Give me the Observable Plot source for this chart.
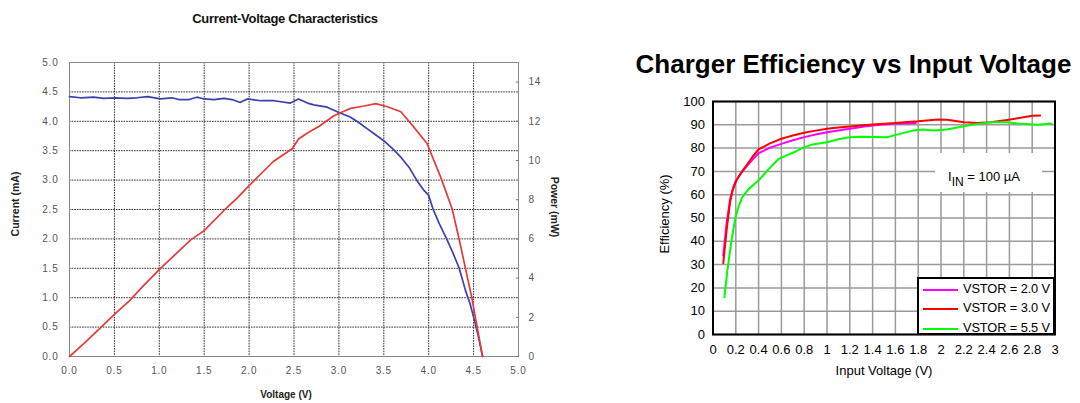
<!DOCTYPE html>
<html>
<head>
<meta charset="utf-8">
<script src="https://cdn.jsdelivr.net/npm/d3@7"></script>
<script src="https://cdn.jsdelivr.net/npm/@observablehq/plot@0.6"></script>
<style>
  html, body { margin: 0; padding: 0; background: #fff; }
  body { position: relative; width: 1080px; height: 403px; overflow: hidden; font-family: "Liberation Sans", Arial, sans-serif; }
  .abs { position: absolute; white-space: nowrap; }
  .rot { transform: translate(-50%, -50%) rotate(-90deg); }
  .rot90 { transform: translate(-50%, -50%) rotate(90deg); }
  #c1 { left: 0; top: 40px; width: 580px; height: 363px; }
  #c2 { left: 620px; top: 85px; width: 460px; height: 318px; }
  #c1 svg text { letter-spacing: 0.8px; }
  #legend { left: 917px; top: 277px; width: 138px; height: 58px; box-sizing: border-box; border: 2px solid #000; background: #fff; font-size: 12.8px; letter-spacing: -0.1px; color: #000; }
  .lg { position: absolute; left: 4px; height: 16px; line-height: 16px; }
  .sw { display: inline-block; width: 35px; height: 0; border-top: 2px solid; vertical-align: middle; margin-right: 5px; }
  #note { left: 935px; top: 153px; width: 107px; height: 39px; background: #fff; font-size: 13px; color: #000; }
</style>
</head>
<body>
<div class="abs" id="t1" style="left:135px;top:11.5px;width:300px;text-align:center;font-size:13px;line-height:13px;font-weight:bold;letter-spacing:-0.3px;color:#111;">Current-Voltage Characteristics</div>
<div class="abs" id="c1"></div>
<div class="abs rot" style="left:15px;top:204px;font-size:10.5px;font-weight:bold;color:#222;">Current (mA)</div>
<div class="abs rot90" style="left:555px;top:207px;font-size:10.5px;font-weight:bold;color:#222;">Power (mW)</div>
<div class="abs" style="left:186px;top:390px;width:200px;text-align:center;font-size:10px;line-height:10px;font-weight:bold;color:#222;">Voltage (V)</div>

<div class="abs" id="t2" style="left:620px;top:51px;width:467px;text-align:center;font-size:26px;line-height:26px;font-weight:bold;color:#000;">Charger Efficiency vs Input Voltage</div>
<div class="abs" id="c2"></div>
<div class="abs rot" style="left:664px;top:214px;font-size:13px;color:#000;">Efficiency (%)</div>
<div class="abs" style="left:784px;top:363px;width:200px;text-align:center;font-size:13px;line-height:15px;color:#000;">Input Voltage (V)</div>
<div class="abs" id="note"><div style="position:absolute;left:13px;top:17px;line-height:13px;">I<span style="font-size:12px;position:relative;top:5px;">IN</span> = 100 µA</div></div>
<div class="abs" id="legend"></div>

<script>
// ---------- Left chart: Current-Voltage Characteristics ----------
const ivVoltage = [0.00, 0.12, 0.27, 0.38, 0.51, 0.64, 0.75, 0.87, 0.98, 1.01, 1.14, 1.22, 1.33, 1.42, 1.50, 1.61, 1.72, 1.81, 1.90, 1.98, 2.13, 2.28, 2.46, 2.55, 2.65, 2.72, 2.87, 3.00, 3.13, 3.22, 3.31, 3.40, 3.50, 3.60, 3.69, 3.78, 3.87, 3.95, 4.00, 4.05, 4.12, 4.20, 4.27, 4.34, 4.41, 4.46, 4.50, 4.55, 4.60];
const ivCurrent = [4.42, 4.40, 4.41, 4.39, 4.40, 4.39, 4.40, 4.42, 4.39, 4.38, 4.40, 4.37, 4.37, 4.41, 4.38, 4.37, 4.39, 4.37, 4.32, 4.38, 4.35, 4.35, 4.31, 4.38, 4.31, 4.28, 4.24, 4.15, 4.07, 3.98, 3.88, 3.78, 3.67, 3.53, 3.39, 3.22, 2.99, 2.82, 2.74, 2.50, 2.25, 2.00, 1.76, 1.50, 1.12, 0.90, 0.67, 0.36, 0.00];

const pwVoltage = [0.00, 0.15, 0.35, 0.50, 0.67, 0.80, 1.01, 1.20, 1.35, 1.50, 1.72, 1.87, 2.00, 2.15, 2.27, 2.48, 2.55, 2.65, 2.78, 2.94, 3.05, 3.13, 3.28, 3.41, 3.54, 3.69, 3.83, 3.98, 4.13, 4.26, 4.34, 4.41, 4.48, 4.54, 4.60];
const pwPower   = [0.00, 0.62, 1.49, 2.15, 2.85, 3.50, 4.48, 5.30, 5.95, 6.42, 7.45, 8.09, 8.72, 9.40, 9.95, 10.60, 11.10, 11.40, 11.75, 12.27, 12.50, 12.66, 12.78, 12.90, 12.74, 12.49, 11.73, 10.88, 9.19, 7.55, 5.97, 4.48, 3.00, 1.49, 0.00];

const leftXTicks = [0, 0.5, 1, 1.5, 2, 2.5, 3, 3.5, 4, 4.5, 5];
const leftYTicks = [0, 0.5, 1, 1.5, 2, 2.5, 3, 3.5, 4, 4.5, 5];
const powerTicks = [0, 2, 4, 6, 8, 10, 12, 14];
const powerMax = 15;   // right axis spans 0–15 mW while left spans 0–5 mA
const currentMax = 5;

const ivData = ivVoltage.map((v, i) => ({v, i: ivCurrent[i]}));
const pwData = pwVoltage.map((v, i) => ({v, p: pwPower[i]}));
const pToI = p => p * currentMax / powerMax;
const fmt1 = d3.format(".1f");

const left = Plot.plot({
  width: 580, height: 363,
  marginLeft: 69, marginRight: 62, marginTop: 22, marginBottom: 47,
  x: {domain: [0, 5]},
  y: {domain: [0, currentMax]},
  style: {fontFamily: "'Liberation Sans', Arial, sans-serif", fontSize: "10px", color: "#555", background: "transparent", overflow: "visible"},
  marks: [
    Plot.gridX(leftXTicks, {stroke: "#1a1a1a", strokeOpacity: 1, strokeWidth: 0.9, strokeDasharray: "1.6,1"}),
    Plot.gridY(leftYTicks, {stroke: "#1a1a1a", strokeOpacity: 1, strokeWidth: 0.9, strokeDasharray: "1.6,1"}),
    Plot.frame({stroke: "#888"}),
    Plot.line(ivData, {x: "v", y: "i", stroke: "#3d3fae", strokeWidth: 1.7}),
    Plot.line(pwData, {x: "v", y: d => pToI(d.p), stroke: "#e23b3b", strokeWidth: 1.7}),
    Plot.axisX(leftXTicks, {tickSize: 0, tickPadding: 10, tickFormat: fmt1, label: null}),
    Plot.axisY(leftYTicks, {tickSize: 0, tickPadding: 11, tickFormat: fmt1, label: null}),
    Plot.axisY(powerTicks.map(pToI), {anchor: "right", tickSize: -3, tickPadding: 13, tickFormat: d => String(Math.round(d * powerMax / currentMax)), label: null, stroke: "#777"})
  ]
});
document.getElementById("c1").appendChild(left);

// ---------- Right chart: Charger Efficiency vs Input Voltage ----------
const seriesNames = ["VSTOR = 2.0 V", "VSTOR = 3.0 V", "VSTOR = 5.5 V"];
const seriesColors = ["#ff00ff", "#ff0000", "#00ff00"];

const vin20 = [0.09, 0.12, 0.15, 0.18, 0.20, 0.25, 0.30, 0.35, 0.40, 0.50, 0.60, 0.70, 0.80, 0.90, 1.00, 1.10, 1.20, 1.30, 1.40, 1.50, 1.60, 1.70, 1.78];
const eff20 = [34.0, 48.0, 58.0, 63.5, 66.0, 69.5, 72.5, 75.2, 77.8, 80.2, 81.8, 83.4, 84.7, 85.8, 86.8, 87.6, 88.3, 89.0, 89.7, 90.1, 90.4, 90.6, 90.8];

const vin30 = [0.09, 0.12, 0.15, 0.17, 0.20, 0.24, 0.30, 0.35, 0.40, 0.50, 0.60, 0.70, 0.80, 0.90, 1.00, 1.10, 1.20, 1.30, 1.40, 1.50, 1.60, 1.70, 1.80, 1.90, 1.97, 2.05, 2.10, 2.20, 2.32, 2.44, 2.50, 2.58, 2.70, 2.80, 2.87];
const eff30 = [30.6, 45.0, 57.0, 61.5, 65.5, 69.0, 73.0, 76.5, 79.5, 82.0, 84.0, 85.4, 86.6, 87.5, 88.3, 88.8, 89.3, 89.7, 90.1, 90.5, 90.8, 91.2, 91.5, 92.0, 92.3, 92.2, 91.8, 91.1, 90.8, 91.1, 91.5, 92.1, 93.0, 93.9, 94.0];

const vin55 = [0.10, 0.125, 0.154, 0.175, 0.197, 0.225, 0.256, 0.314, 0.40, 0.49, 0.577, 0.65, 0.71, 0.78, 0.86, 1.00, 1.10, 1.20, 1.30, 1.40, 1.53, 1.64, 1.76, 1.84, 1.94, 2.05, 2.20, 2.32, 2.44, 2.58, 2.70, 2.85, 2.97];
const eff55 = [16.0, 27.0, 37.5, 44.0, 50.3, 55.0, 58.9, 62.5, 66.1, 71.1, 75.4, 77.0, 78.2, 80.0, 81.4, 82.5, 83.8, 84.7, 84.9, 84.8, 84.7, 86.1, 87.6, 88.0, 87.6, 88.0, 89.4, 90.4, 91.1, 91.1, 90.4, 90.0, 90.6];

const rightXTicks = [0, 0.2, 0.4, 0.6, 0.8, 1, 1.2, 1.4, 1.6, 1.8, 2, 2.2, 2.4, 2.6, 2.8, 3];
const rightYTicks = [0, 10, 20, 30, 40, 50, 60, 70, 80, 90, 100];

const toRows = (xs, ys) => xs.map((x, k) => ({x, y: ys[k]}));
const s20 = toRows(vin20, eff20);
const s30 = toRows(vin30, eff30);
const s55 = toRows(vin55, eff55);

const right = Plot.plot({
  width: 460, height: 318,
  marginLeft: 92.5, marginRight: 25.5, marginTop: 16, marginBottom: 69,
  x: {domain: [0, 3]},
  y: {domain: [0, 100]},
  style: {fontFamily: "'Liberation Sans', Arial, sans-serif", fontSize: "13px", color: "#000", background: "transparent", overflow: "visible"},
  marks: [
    Plot.gridX(rightXTicks, {stroke: "#9a9a9a", strokeOpacity: 1, strokeWidth: 1.5}),
    Plot.gridY(rightYTicks, {stroke: "#9a9a9a", strokeOpacity: 1, strokeWidth: 1.5}),
    Plot.line(s20, {x: "x", y: "y", stroke: seriesColors[0], strokeWidth: 2}),
    Plot.line(s30, {x: "x", y: "y", stroke: seriesColors[1], strokeWidth: 2}),
    Plot.line(s55, {x: "x", y: "y", stroke: seriesColors[2], strokeWidth: 2}),
    Plot.frame({stroke: "#000", strokeWidth: 2}),
    Plot.axisX(rightXTicks, {tickSize: 0, tickPadding: 10, tickFormat: d => String(+d.toFixed(1)), label: null}),
    Plot.axisY(rightYTicks, {tickSize: 0, tickPadding: 8, label: null})
  ]
});
document.getElementById("c2").appendChild(right);

// legend
const legend = document.getElementById("legend");
const rowTops = [2, 21, 41];
seriesNames.forEach((name, k) => {
  const row = document.createElement("div");
  row.className = "lg";
  row.style.top = rowTops[k] + "px";
  const sw = document.createElement("span");
  sw.className = "sw";
  sw.style.borderTopColor = seriesColors[k];
  row.appendChild(sw);
  row.appendChild(document.createTextNode(name));
  legend.appendChild(row);
});
</script>
</body>
</html>
